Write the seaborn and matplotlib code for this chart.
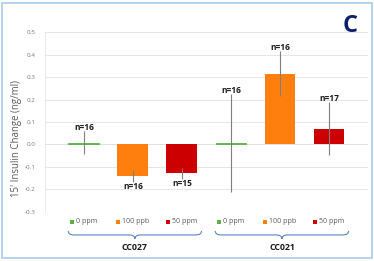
import numpy as np
import pandas as pd
import matplotlib
matplotlib.use("Agg")
import matplotlib.pyplot as plt
import matplotlib.transforms as mtransforms
from matplotlib.path import Path
from matplotlib.patches import PathPatch, Rectangle
import seaborn as sns

# ---- data ----
groups = ["CC027", "CC021"]
doses = ["0 ppm", "100 ppb", "50 ppm"]
values = [0.008, -0.140, -0.128, 0.006, 0.315, 0.070]
errors = [0.050, 0.028, 0.025, 0.217, 0.100, 0.117]
n_labels = ["n=16", "n=16", "n=15", "n=16", "n=16", "n=17"]
yticks = [-0.3, -0.2, -0.1, 0.0, 0.1, 0.2, 0.3, 0.4, 0.5]
dose_colors = {"0 ppm": "#5DB043", "100 ppb": "#FF7F0E", "50 ppm": "#CC0000"}

bar_ids = [f"{g} {d}" for g in groups for d in doses]
df = pd.DataFrame({
    "bar": bar_ids,
    "group": [g for g in groups for d in doses],
    "dose": [d for g in groups for d in doses],
    "value": values,
})

sns.set_theme(style="white")
plt.rcParams["font.family"] = ["Open Sans", "DejaVu Sans"]
plt.rcParams["axes.unicode_minus"] = False

fig = plt.figure(figsize=(3.74, 2.61), dpi=100)
ax = fig.add_axes([0.12, 0.188, 0.864, 0.689])

ax.axhline(0, color="#D6D6D6", linewidth=0.6, zorder=0.5)
sns.barplot(data=df, x="bar", y="value", hue="dose", palette=dose_colors,
            order=bar_ids, dodge=False, width=0.63, errorbar=None,
            legend=False, ax=ax, saturation=1, zorder=2, linewidth=0)
# keep the near-zero bars visible as a thin coloured line (as in the source)
for p in ax.patches:
    if abs(p.get_height()) < 0.02:
        p.set_edgecolor(p.get_facecolor())
        p.set_linewidth(0.6)
xs = np.arange(len(bar_ids))
ax.errorbar(xs, values, yerr=errors, fmt="none", ecolor="#7F7F7F",
            elinewidth=0.8, capsize=0, zorder=3)

for x, v, e, lab in zip(xs, values, errors, n_labels):
    if v >= 0:
        y = v + e + 0.017
    else:
        y = v - e - 0.02
    ax.text(x, y, lab, ha="center", va="center", fontsize=6,
            fontweight="bold", color="#1a1a1a", zorder=4)

ax.set_ylim(-0.3, 0.5)
ax.set_xlim(-0.796, 5.796)
ax.set_yticks(yticks)
ax.set_yticklabels([f"{t:.1f}" for t in yticks], fontsize=4.5, color="#777777")
ax.tick_params(axis="y", length=0, pad=7)
ax.set_xticks([])
ax.set_xlabel("")
ax.set_ylabel("15' Insulin Change (ng/ml)", fontsize=6.9, color="#595959")
ax.yaxis.set_label_coords(-0.07, 0.41)
ax.grid(axis="y", color="#E0E0E0", linewidth=0.6, zorder=0)
ax.set_axisbelow(True)
for s in ["top", "right", "bottom"]:
    ax.spines[s].set_visible(False)
ax.spines["left"].set_color("#E8E8E8")
ax.spines["left"].set_linewidth(0.6)

trans = mtransforms.blended_transform_factory(ax.transData, ax.transAxes)

# dose labels with colored squares
fig.canvas.draw()
renderer = fig.canvas.get_renderer()
sq = 3.5   # px
gap = 2.0  # px
for x, d in zip(xs, df["dose"]):
    t = ax.text(x, -0.055, d, transform=trans, ha="left", va="center",
                fontsize=5, color="#595959", clip_on=False)
    w = t.get_window_extent(renderer).width
    total = sq + gap + w
    start = -total / 2
    t.set_transform(trans + mtransforms.ScaledTranslation((start + sq + gap) / 100, 0, fig.dpi_scale_trans))
    ax.plot([x], [-0.055], marker="s", markersize=sq * 0.72, color=dose_colors[d],
            transform=trans + mtransforms.ScaledTranslation((start + sq / 2) / 100, 0, fig.dpi_scale_trans),
            clip_on=False, linestyle="none", markeredgewidth=0)

# braces with group labels
def brace(x0, x1, y, h, color="#5B84C8"):
    xm = (x0 + x1) / 2
    d = 0.12
    verts = [(x0, y + h), (x0, y), (x0 + d, y),
             (xm - d, y),
             (xm, y), (xm, y - h),
             (xm, y), (xm + d, y),
             (x1 - d, y),
             (x1, y), (x1, y + h)]
    codes = [Path.MOVETO, Path.CURVE3, Path.CURVE3,
             Path.LINETO,
             Path.CURVE3, Path.CURVE3,
             Path.CURVE3, Path.CURVE3,
             Path.LINETO,
             Path.CURVE3, Path.CURVE3]
    ax.add_patch(PathPatch(Path(verts, codes), facecolor="none", edgecolor=color,
                           linewidth=0.8, transform=trans, clip_on=False))
    return xm

for gi, g in enumerate(groups):
    x0 = gi * 3 - 0.32
    x1 = gi * 3 + 2.4
    xm = brace(x0, x1, -0.128, 0.022)
    ax.text(xm, -0.2, g, transform=trans, ha="center", va="center",
            fontsize=6.3, fontweight="bold", color="#1a1a1a", clip_on=False)

# panel letter
fig.text(0.935, 0.9, "C", fontsize=17, fontweight="bold", color="#0D1F6B",
         ha="center", va="center")

# figure border
fig.patches.append(Rectangle((0.006, 0.01), 0.988, 0.98, transform=fig.transFigure,
                             fill=False, edgecolor="#A9CBEA", linewidth=1.2))

fig.savefig("out.png", dpi=100)
